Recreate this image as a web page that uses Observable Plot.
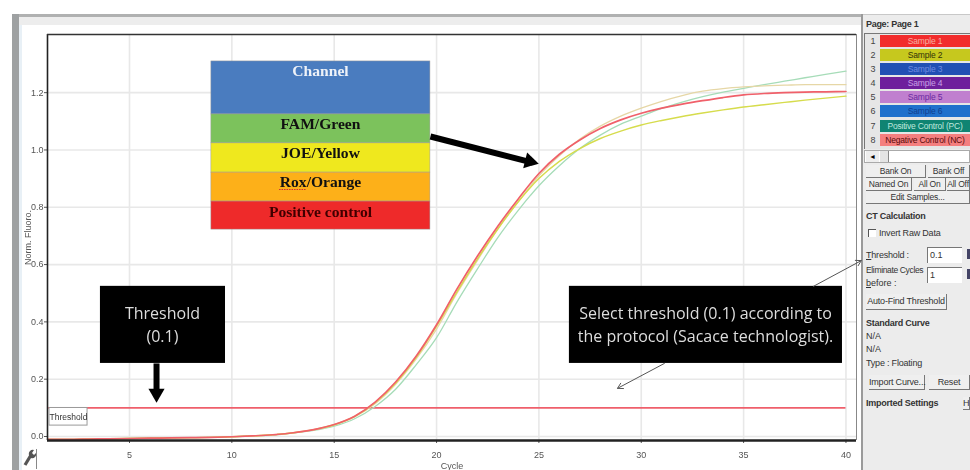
<!DOCTYPE html>
<html><head><meta charset="utf-8">
<script src="https://cdn.jsdelivr.net/npm/d3@7"></script>
<script src="https://cdn.jsdelivr.net/npm/@observablehq/plot@0.6"></script>
<style>
html,body{margin:0;padding:0;background:#fff;overflow:hidden}
#wrap{position:relative;width:970px;height:470px;overflow:hidden;filter:blur(0.5px);font-family:"Liberation Sans",Arial,sans-serif}
#wrap>svg{position:absolute;left:0;top:0;z-index:2;background:transparent}
.a{position:absolute;white-space:nowrap;box-sizing:border-box;color:#333;font-size:9px;line-height:12px}
.btn{background:#efefef;border-right:1px solid #777;border-bottom:1px solid #777;text-align:center;letter-spacing:-.2px}
.inp{background:#fff;border-top:1px solid #777;border-left:1px solid #777;padding-left:2px}
</style></head><body><div id="wrap"></div>
<script>
const cycles = [1,2,3,4,5,6,7,8,9,10,11,12,13,14,15,16,17,18,19,20,21,22,23,24,25,26,27,28,29,30,31,32,33,34,35,36,37,38,39,40];
const redValues = [-.01,-.01,-.009,-.008,-.007,-.006,-.005,-.004,-.003,-.001,.002,.006,.013,.024,.042,.071,.12,.19,.28,.39,.515,.63,.735,.83,.918,.985,1.035,1.075,1.105,1.128,1.146,1.16,1.172,1.183,1.192,1.197,1.2,1.202,1.203,1.204];
const yellowValues = [-.01,-.01,-.009,-.008,-.007,-.006,-.005,-.004,-.003,-.001,.002,.006,.013,.024,.041,.07,.118,.186,.275,.385,.505,.62,.725,.82,.9,.96,1.005,1.04,1.066,1.087,1.103,1.117,1.129,1.14,1.15,1.158,1.166,1.174,1.181,1.188];
const tanValues = [-.01,-.01,-.009,-.008,-.007,-.006,-.005,-.004,-.003,-.001,.002,.006,.013,.023,.04,.068,.114,.182,.27,.375,.5,.615,.725,.82,.91,.98,1.038,1.083,1.118,1.146,1.17,1.19,1.205,1.214,1.22,1.224,1.226,1.228,1.228,1.228];
const greenValues = [-.01,-.01,-.009,-.008,-.007,-.006,-.005,-.004,-.003,-.001,.002,.005,.012,.021,.036,.062,.105,.165,.25,.345,.47,.585,.695,.79,.875,.945,1.005,1.052,1.09,1.118,1.145,1.167,1.186,1.202,1.215,1.228,1.24,1.252,1.264,1.275];
const thresholdValue = 0.1;
const xTicks = [5,10,15,20,25,30,35,40];
const yTicks = [0,.2,.4,.6,.8,1,1.2];

// legend table, in cycle / fluorescence units
const channelNames = ["Channel","FAM/Green","JOE/Yellow","Rox/Orange","Positive control"];
const channelFills = ["#4a7cbf","#7cc25c","#efe81e","#fdb019","#ee2a2a"];
const channelText = ["#eef2f8","#111","#111","#111","#400000"];
const channelTop = [1.309,1.124,1.023,.921,.82];
const channelBottom = [1.124,1.023,.921,.82,.722];
const channelLabelY = [1.274,1.089,.988,.887,.785];

const calloutText = ["Threshold","(0.1)","Select threshold (0.1) according to","the protocol (Sacace technologist)."];
const calloutX = [6.61,6.61,33.14,33.14];
const calloutY = [.429,.349,.429,.349];

const sampleNames = ["Sample 1","Sample 2","Sample 3","Sample 4","Sample 5","Sample 6","Positive Control (PC)","Negative Control (NC)"];
const sampleFills = ["#f22c2c","#c6c81e","#2150b4","#6e1f9c","#c07fcf","#1f70cc","#0f8472","#f47f7f"];
const sampleInks = ["#f7b0a0","#33330a","#6f8be0","#c9a0e6","#6a2aa0","#0f3f90","#bfe8dd","#5a0a0a"];

const table = channelNames.map((name,i)=>({name,fill:channelFills[i],ink:channelText[i],y1:channelTop[i],y2:channelBottom[i],ly:channelLabelY[i]}));
const series = [["green",greenValues,"#a6dcb8",1.3],["tan",tanValues,"#e6d7a6",1.3],["yellow",yellowValues,"#d6dc4c",1.4],["red",redValues,"#f0606a",1.7]];
const curves = series.flatMap(([name,vals,color,w])=>vals.map((v,i)=>({name,cycle:cycles[i],v,color,w})));

const plot = Plot.plot({
  width:970,height:470,marginLeft:47,marginRight:114,marginTop:34,marginBottom:30,
  style:{background:"transparent",fontFamily:"Liberation Sans, Arial, sans-serif"},
  x:{domain:[.994,40.515]},
  y:{domain:[-.014,1.403]},
  marks:[
    Plot.gridX(xTicks,{stroke:"#e8e8e8",strokeWidth:1.6,strokeOpacity:1}),
    Plot.gridY(yTicks,{stroke:"#e8e8e8",strokeWidth:1.6,strokeOpacity:1}),
    Plot.axisX({ticks:xTicks,tickSize:3,tickPadding:8,fontSize:9,color:"#555",label:"Cycle",labelAnchor:"center",labelArrow:"none",labelOffset:28}),
    Plot.axisY({ticks:yTicks,tickSize:3,tickPadding:1,fontSize:9,color:"#555",tickFormat:".1f",label:"Norm. Fluoro.",labelAnchor:"center",labelArrow:"none",labelOffset:23}),
    Plot.ruleY([thresholdValue],{x1:cycles[0],x2:cycles[cycles.length-1],stroke:"#ef5f6b",strokeWidth:1.8}),
    ...series.map(([name,vals,color,w])=>Plot.line(curves.filter(d=>d.name===name),{x:"cycle",y:"v",stroke:color,strokeWidth:w,curve:"monotone-x"})),
    Plot.ruleX([40.515],{stroke:"#888",strokeWidth:1}),
    Plot.ruleX([.994],{stroke:"#222",strokeWidth:1.6}),
    Plot.ruleY([1.403],{stroke:"#333",strokeWidth:1.4}),
    Plot.ruleY([-.014],{stroke:"#222",strokeWidth:2.5}),
    // threshold tag
    Plot.rect([{x1:1.09,x2:2.95,y1:.0995,y2:.038}],{x1:"x1",x2:"x2",y1:"y1",y2:"y2",fill:"#fff",stroke:"#999"}),
    Plot.text(["Threshold"],{x:2.02,y:.068,fontSize:8.5,fill:"#333"}),
    // channel table
    Plot.rect(table,{x1:9,x2:19.7,y1:"y1",y2:"y2",fill:"fill",stroke:"#9a9a9a",strokeWidth:.5}),
    Plot.text(table,{x:14.33,y:"ly",text:"name",fill:"ink",fontFamily:"Liberation Serif",fontWeight:"bold",fontSize:15.6}),
    Plot.ruleY([.862],{x1:12.33,x2:13.65,stroke:"#c33",strokeDasharray:"1.5 1",strokeWidth:1}),
    // callouts
    Plot.rect([{x1:3.58,x2:9.69},{x1:26.49,x2:39.83}],{x1:"x1",x2:"x2",y1:.524,y2:.255,fill:"#000"}),
    Plot.text(calloutText,{x:(d,i)=>calloutX[i],y:(d,i)=>calloutY[i],text:d=>d,fill:"#ddd",fontFamily:"Open Sans",fontSize:16}),
    // arrows
    Plot.link([{x1:19.7,y1:1.047,x2:24.4,y2:.961}],{x1:"x1",y1:"y1",x2:"x2",y2:"y2",stroke:"#000",strokeWidth:6}),
    Plot.dot([{x:24.55,y:.96}],{x:"x",y:"y",symbol:"triangle",r:6,rotate:104,fill:"#000"}),
    Plot.link([{x1:6.32,y1:.255,x2:6.32,y2:.15}],{x1:"x1",y1:"y1",x2:"x2",y2:"y2",stroke:"#000",strokeWidth:6}),
    Plot.dot([{x:6.32,y:.15}],{x:"x",y:"y",symbol:"triangle",r:6,rotate:180,fill:"#000"}),
    Plot.arrow([{x1:31.13,y1:.255,x2:28.84,y2:.168},{x1:38.41,y1:.524,x2:40.75,y2:.614}],{x1:"x1",y1:"y1",x2:"x2",y2:"y2",stroke:"#555",strokeWidth:1,headLength:9})
  ]
});

const wrap = document.getElementById("wrap");
function box(x,y,w,h,css,text,cls){
  const d=document.createElement("div");
  d.className="a "+(cls||"");
  d.style.cssText=`left:${x}px;top:${y}px;width:${w}px;height:${h}px;${css||""}`;
  if(text!=null)d.textContent=text;
  wrap.appendChild(d);return d;
}
function label(x,cy,text,css){box(x,cy-6,104,12,css,text)}
const boldCss="font-weight:bold;letter-spacing:-.25px";
// window chrome
box(12,14,850,3,"background:#b0b1b1");
box(12,17,850,8,"background:#ededed");
box(12,14,7,456,"background:#9ea1a2");
box(19,25,3,445,"background:#e8f0f6");
box(862,14,108,456,"background:#ececec;border-top:1px solid #c8c8c8");
box(861,14,1.5,456,"background:#9a9a9a");
// sample list
label(866,24,"Page: Page 1","font-weight:bold;letter-spacing:-.3px");
box(864,33,106,116,"background:#e6e6e6;border-top:1px solid #777;border-left:1px solid #777");
const rowY=[41,55,69,83,97,111,126,140];
sampleNames.forEach((n,i)=>{
  box(868,rowY[i]-6,10,12,"color:#444;text-align:center",String(i+1));
  box(880,rowY[i]-6,90,12,`background:${sampleFills[i]};color:${sampleInks[i]};text-align:center;font-size:8.5px;letter-spacing:-.2px`,n);
});
box(864,150,106,13,"background:#fff;border:1px solid #aaa");
box(866,151,13,11,"color:#000;text-align:center;font-size:7px;background:#eee","◄");
box(880,151,9,11,"background:#e4e4e4;border-right:1px solid #888");
[["Bank On",866,165,60],["Bank Off",928,165,42],["Named On",866,178,46],["All On",914,178,32],["All Off",947,178,23],["Edit Samples...",866,191,104]].forEach(([t,x,y,w])=>box(x,y,w,13,"font-size:8.5px",t,"btn"));
// CT calculation
label(866,216,"CT Calculation",boldCss);
box(868,229,8,8,"background:#fff;border-top:1px solid #555;border-left:1px solid #555");
label(879,233,"Invert Raw Data","letter-spacing:-.2px");
box(866,249,60,12,"letter-spacing:-.2px",null).innerHTML="<u>T</u>hreshold :";
box(927,247,35,16,"line-height:15px","0.1","inp");
box(866,264,60,12,"font-size:8.5px;letter-spacing:-.35px","Eliminate Cycles");
box(866,277,60,12,"",null).innerHTML="<u>b</u>efore :";
box(927,267,35,16,"line-height:15px","1","inp");
[247,267].forEach(y=>box(967,y+2,3,10,"background:#446"));
box(866,294,81,16,"line-height:15px","Auto-Find Threshold","btn");
label(866,323,"Standard Curve",boldCss);
label(866,336,"N/A");label(866,349,"N/A");label(866,363,"Type : Floating","letter-spacing:-.2px");
box(869,375,56,15,"line-height:14px","Import Curve...","btn");
box(929,375,41,15,"line-height:14px","Reset","btn");
label(866,403,"Imported Settings",boldCss);
box(963,397,7,13,"line-height:12px;overflow:hidden","H","btn");
// wrench button
box(36,449,1,20,"background:#888");
box(23,449,13,17,"",null).innerHTML='<svg width="13" height="17" viewBox="0 0 13 17"><path d="M2 16 L8 6" stroke="#555" stroke-width="3.2" fill="none"/><path d="M6 6 A4 4 0 0 1 11 1 L9 4 L11 6 L13 4 A4 4 0 0 1 8 9 Z" fill="#555"/></svg>';
wrap.appendChild(plot);
</script></body></html>
